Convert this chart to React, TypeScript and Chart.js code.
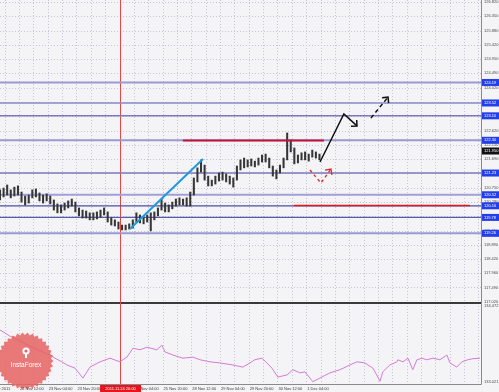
import React, { useEffect, useRef } from "react";
import { Chart, registerables } from "chart.js";
Chart.register(...registerables);

// ---------- data ----------
const X_MIN = 0;
const X_MAX = 268; // hours shown
const BAR_HOURS = [0,2,4,6,8,10,12,14,16,18,20,22,24,26,28,30,32,34,36,38,40,42,44,46,48,50,52,54,56,58,60,62,64,66,68,70,72,74,76,78,80,82,84,86,88,90,92,94,96,98,100,102,104,106,108,110,112,114,116,118,120,122,124,126,128,130,132,134,136,138,140,142,144,146,148,150,152,154,156,158,160,162,164,166,168,170,172,174,176,178];
const BAR_HIGH = [120.68,120.74,120.84,120.68,120.77,120.81,120.61,120.48,120.51,120.68,
120.71,120.58,120.51,120.55,120.48,120.35,120.22,120.19,120.25,120.32,
120.38,120.28,120.09,120.02,119.99,119.93,119.93,119.96,120.02,120.09,
119.96,119.76,119.70,119.63,119.53,119.53,119.57,119.70,119.93,119.86,
119.79,119.86,119.93,119.96,120.09,120.38,120.25,120.19,120.28,120.38,
120.42,120.38,120.42,120.61,121.07,121.40,121.66,121.49,121.13,121.00,
121.13,121.23,121.26,121.20,121.13,121.07,121.46,121.66,121.72,121.66,
121.69,121.62,121.72,121.82,121.85,121.72,121.46,121.33,121.49,121.72,
122.54,122.31,122.05,121.82,121.89,121.92,121.85,121.98,121.92,121.85];
const BAR_LOW = [120.35,120.45,120.51,120.42,120.48,120.51,120.28,120.19,120.25,120.42,
120.45,120.32,120.25,120.32,120.22,120.02,119.93,119.93,120.02,120.09,
120.15,119.96,119.83,119.76,119.76,119.70,119.70,119.73,119.79,119.86,
119.63,119.53,119.50,119.40,119.37,119.37,119.40,119.43,119.63,119.60,
119.57,119.63,119.34,119.70,119.83,120.02,119.96,119.96,120.06,120.15,
120.19,120.19,120.15,120.15,120.51,120.94,121.26,121.00,120.81,120.81,
120.87,120.97,121.00,120.94,120.87,120.77,121.00,121.33,121.40,121.43,
121.46,121.43,121.49,121.59,121.59,121.40,121.13,121.04,121.23,121.40,
121.66,121.92,121.53,121.56,121.66,121.66,121.62,121.75,121.72,121.66];

const PRICE_MIN = 117.016;
const PRICE_MAX = 126.885;
const PRICE_TICKS = [126.82,126.35,125.88,125.42,124.95,124.49,124.02,123.55,123.08,122.62,122.15,121.69,121.22,120.75,120.28,119.82,119.35,118.89,118.42,117.96,117.49,117.02];

const LEVELS = [124.19,123.52,123.10,122.30,121.23,120.52,120.16,119.78,119.26];
const CURRENT_PRICE = 121.95;

const TREND_HOURS = [72.4, 113.1];
const TREND_PRICES = [119.40, 121.69];
const RESIST_HOURS = [101.9, 180.5];
const RESIST_PRICE = 122.29;
const SUPPORT_HOURS = [163.8, 261.8];
const SUPPORT_PRICE = 120.17;
const FORECAST_HOURS = [178.3, 191.6, 198.9];
const FORECAST_PRICES = [121.59, 123.16, 122.77];
const FORECAST2_HOURS = [206.7, 216.2];
const FORECAST2_PRICES = [123.03, 123.71];
const ALT_HOURS = [172.7, 178.8, 184.4];
const ALT_PRICES = [121.33, 120.905, 121.36];

const IND_MIN = 132.977;
const IND_MAX = 134.543;
const IND_TICKS = [134.472, 133.021];
const IND_HOURS = [0,5.6,11.1,16.7,22.3,27.9,30.6,34.5,37.3,41.8,46.2,50.1,55.7,61.3,66.8,70.7,74.1,78.0,81.9,87.4,90.2,91.9,96.4,101.9,107.5,111.4,117.0,122.5,129.8,135.3,139.3,142.0,145.9,148.7,151.5,154.8,159.9,163.2,167.1,169.9,172.7,174.3,178.2,183.8,189.4,195.0,198.8,203.3,205.0,207.8,210.5,211.7,213.3,217.2,221.1,221.7,224.5,227.3,230.0,232.3,235.1,237.8,241.2,245.1,249.0,250.7,254.5,257.3,260.7,263.5,267.4];
const IND_VALUES = [134.01,133.89,133.80,133.70,133.61,133.53,133.47,133.40,133.34,133.28,133.09,133.30,133.40,133.47,133.40,133.49,133.66,133.63,133.68,133.63,133.72,133.59,133.53,133.47,133.49,133.44,133.40,133.38,133.34,133.30,133.38,133.44,133.47,133.38,133.28,133.11,133.15,133.25,133.19,133.21,133.09,133.02,133.09,133.19,133.25,133.34,133.40,133.38,133.34,133.28,133.11,133.03,133.21,133.34,133.40,133.44,133.40,133.47,133.25,133.44,133.47,133.44,133.47,133.44,133.53,133.38,133.30,133.40,133.44,133.46,133.47];

const TIME_LABELS = ["21 Nov 2011","22 Nov 12:00","23 Nov 04:00","23 Nov 20:00","24 Nov 12:00","25 Nov 04:00","25 Nov 20:00","28 Nov 12:00","29 Nov 04:00","29 Nov 20:00","30 Nov 12:00","1 Dec 04:00"];
const TIME_LABEL_HOURS = [-7.4,10.6,26.6,42.6,58.6,74.6,90.6,106.6,122.6,138.6,154.6,170.6];
const MARKER_HOUR = 66.9;
const MARKER_LABEL = "2011.11.24 20:00";

// ---------- styles ----------
const FONT = '"Liberation Sans", Arial, sans-serif';
const BG = "#f4f4f6";
const LEVEL_COLORS = ["#9a9ad2","#8a8ac8","#7a7abd","#9a9ad2","#7a7abd","#a0a0d6","#4c4ca6","#5a5aaa","#9a9ad2"];
const LEVEL_WIDTHS = [2,1.6,1.6,2,1.6,2,1.2,1.2,2];

function arrowHead(ctx: CanvasRenderingContext2D, x0: number, y0: number, x1: number, y1: number, len: number, color: string, width: number) {
  const a = Math.atan2(y1 - y0, x1 - x0);
  ctx.save();
  ctx.setLineDash([]);
  ctx.strokeStyle = color;
  ctx.lineWidth = width;
  ctx.beginPath();
  ctx.moveTo(x1 - len * Math.cos(a - Math.PI / 4), y1 - len * Math.sin(a - Math.PI / 4));
  ctx.lineTo(x1, y1);
  ctx.lineTo(x1 - len * Math.cos(a + Math.PI / 4), y1 - len * Math.sin(a + Math.PI / 4));
  ctx.stroke();
  ctx.restore();
}

const ARROW_SETS: { idx: number; color: string; width: number }[] = [];

const decor = {
  id: "decor",
  beforeDraw(chart: any) {
    const { ctx, width, height } = chart;
    ctx.save();
    ctx.fillStyle = BG;
    ctx.fillRect(0, 0, width, height);
    ctx.restore();
  },
  beforeDatasetsDraw(chart: any) {
    const { ctx, chartArea } = chart;
    const xs = chart.scales.x, ys = chart.scales.y;
    ctx.save();
    ctx.strokeStyle = "#c6c6d2";
    ctx.lineWidth = 1;
    ctx.setLineDash([1, 2]);
    for (const v of PRICE_TICKS) {
      const py = Math.round(ys.getPixelForValue(v)) + 0.5;
      ctx.beginPath();
      ctx.moveTo(chartArea.left, py);
      ctx.lineTo(chartArea.right, py);
      ctx.stroke();
    }
    for (let h = TIME_LABEL_HOURS[1] - 8; h < X_MAX; h += 8) {
      const px = Math.round(xs.getPixelForValue(h)) + 0.5;
      ctx.beginPath();
      ctx.moveTo(px, chartArea.top);
      ctx.lineTo(px, chartArea.bottom);
      ctx.stroke();
    }
    ctx.setLineDash([]);
    ctx.strokeStyle = "#3a3a3a";
    ctx.lineWidth = 2;
    ctx.beginPath();
    ctx.moveTo(0, ys.bottom + 1);
    ctx.lineTo(chartArea.right, ys.bottom + 1);
    ctx.stroke();
    ctx.strokeStyle = "#8a8a8a";
    ctx.lineWidth = 1;
    ctx.beginPath();
    ctx.moveTo(chartArea.right + 0.5, 0);
    ctx.lineTo(chartArea.right + 0.5, chartArea.bottom + 0.5);
    ctx.lineTo(0, chartArea.bottom + 0.5);
    ctx.stroke();
    const mx = Math.round(xs.getPixelForValue(MARKER_HOUR)) + 0.5;
    ctx.strokeStyle = "#e04848";
    ctx.beginPath();
    ctx.moveTo(mx, chartArea.top);
    ctx.lineTo(mx, chartArea.bottom);
    ctx.stroke();
    ctx.restore();
  },
  afterDatasetsDraw(chart: any) {
    const { ctx } = chart;
    for (const a of ARROW_SETS) {
      const pts = chart.getDatasetMeta(a.idx).data;
      const n = pts.length;
      if (n >= 2) arrowHead(ctx, pts[n - 2].x, pts[n - 2].y, pts[n - 1].x, pts[n - 1].y, 6, a.color, a.width);
    }
    const cx = 25, cy = 361, R = 28.5, r = 26, n = 34;
    ctx.save();
    ctx.beginPath();
    for (let i = 0; i < 2 * n; i++) {
      const ang = (i * Math.PI) / n;
      const rr = i % 2 === 0 ? R : r;
      ctx.lineTo(cx + rr * Math.cos(ang), cy + rr * Math.sin(ang));
    }
    ctx.closePath();
    ctx.fillStyle = "rgba(230,98,98,0.85)";
    ctx.fill();
    ctx.fillStyle = "#ffffff";
    ctx.beginPath();
    ctx.arc(cx + 1, 351, 3.6, 0, Math.PI * 2);
    ctx.fill();
    ctx.fillRect(cx, 351, 2, 7);
    ctx.fillStyle = "rgba(230,98,98,1)";
    ctx.beginPath();
    ctx.arc(cx + 1, 351, 1.6, 0, Math.PI * 2);
    ctx.fill();
    ctx.fillStyle = "#ffffff";
    ctx.font = `6.5px ${FONT}`;
    ctx.textAlign = "center";
    ctx.textBaseline = "middle";
    ctx.fillText("InstaForex", cx + 1, 365);
    ctx.restore();
  },
  afterDraw(chart: any) {
    const { ctx, chartArea } = chart;
    const xs = chart.scales.x, ys = chart.scales.y;
    ctx.save();
    ctx.font = `4px ${FONT}`;
    ctx.textBaseline = "middle";
    ctx.textAlign = "left";
    for (const v of LEVELS) {
      const py = ys.getPixelForValue(v);
      ctx.fillStyle = "#2340e8";
      ctx.fillRect(chartArea.right + 1, py - 3.5, 18, 7);
      ctx.fillStyle = "#ffffff";
      ctx.fillText(v.toFixed(2), chartArea.right + 3, py);
    }
    const cp = ys.getPixelForValue(CURRENT_PRICE);
    ctx.fillStyle = "#111111";
    ctx.fillRect(chartArea.right + 1, cp - 3.5, 18, 7);
    ctx.fillStyle = "#ffffff";
    ctx.fillText(CURRENT_PRICE.toFixed(3), chartArea.right + 3, cp);
    const ly = chartArea.bottom + 4.5;
    ctx.fillStyle = "#3a3a3a";
    TIME_LABELS.forEach((t, i) => {
      const px = xs.getPixelForValue(TIME_LABEL_HOURS[i]);
      ctx.fillText(t, px + 1, ly);
    });
    const mx = xs.getPixelForValue(MARKER_HOUR);
    ctx.fillStyle = "#e8141c";
    ctx.fillRect(mx - 20, chartArea.bottom + 1, 41, 8);
    ctx.fillStyle = "#ffffff";
    ctx.textAlign = "center";
    ctx.fillText(MARKER_LABEL, mx + 0.5, ly);
    ctx.restore();
  },
};

function line(xsArr: number[], ysArr: number[], color: string, width: number, order: number, dash: number[] = [], axis = "y") {
  return {
    type: "line" as const,
    data: xsArr.map((x, i) => ({ x, y: ysArr[i] })),
    borderColor: color,
    borderWidth: width,
    borderDash: dash,
    pointRadius: 0,
    tension: 0,
    fill: false,
    yAxisID: axis,
    order,
  };
}

const yTicks = {
  autoSkip: false,
  padding: 3,
  color: "#4a4a4a",
  font: { size: 4, family: FONT },
  callback: (v: any) => Number(v).toFixed(3),
};
const noGrid = { display: false, drawTicks: false, tickLength: 0 };

export default function App() {
  const ref = useRef<HTMLCanvasElement>(null);
  useEffect(() => {
    const canvas = ref.current!;
    const datasets: any[] = [];
    LEVELS.forEach((v, i) => datasets.push(line([X_MIN, X_MAX], [v, v], LEVEL_COLORS[i], LEVEL_WIDTHS[i], 20)));
    datasets.push({
      type: "bar",
      data: BAR_HOURS.map((h, i) => ({ x: h, y: [BAR_LOW[i], BAR_HIGH[i]] })),
      backgroundColor: "#363636",
      borderWidth: 0,
      barThickness: 1.4,
      grouped: false,
      yAxisID: "y",
      order: 10,
    });
    datasets.push(line(TREND_HOURS, TREND_PRICES, "#2299dd", 2, 5));
    datasets.push(line(RESIST_HOURS, [RESIST_PRICE, RESIST_PRICE], "#c41238", 2, 5));
    datasets.push(line(SUPPORT_HOURS, [SUPPORT_PRICE, SUPPORT_PRICE], "#e01818", 1.5, 5));
    datasets.push(line(IND_HOURS, IND_VALUES, "#d77ad7", 1, 5, [], "y2"));
    ARROW_SETS.length = 0;
    datasets.push(line(FORECAST_HOURS, FORECAST_PRICES, "#111111", 1.5, 1));
    ARROW_SETS.push({ idx: datasets.length - 1, color: "#111111", width: 1.5 });
    datasets.push(line(FORECAST2_HOURS, FORECAST2_PRICES, "#111111", 1.5, 1, [4, 3]));
    ARROW_SETS.push({ idx: datasets.length - 1, color: "#111111", width: 1.5 });
    datasets.push(line(ALT_HOURS, ALT_PRICES, "#e02828", 1.3, 1, [3, 3]));
    ARROW_SETS.push({ idx: datasets.length - 1, color: "#e02828", width: 1.3 });

    const chart = new Chart(canvas, {
      type: "bar",
      data: { datasets },
      options: {
        responsive: false,
        animation: false,
        maintainAspectRatio: false,
        layout: { padding: 0 },
        plugins: { legend: { display: false }, tooltip: { enabled: false } },
        scales: {
          x: {
            type: "linear",
            min: X_MIN,
            max: X_MAX,
            offset: false,
            grid: noGrid,
            border: { display: false },
            ticks: { display: false },
            afterFit: (s: any) => { s.height = 8; s.paddingLeft = 0; s.paddingRight = 0; },
          },
          y: {
            type: "linear",
            position: "right",
            stack: "panels",
            stackWeight: 302,
            min: PRICE_MIN,
            max: PRICE_MAX,
            grid: noGrid,
            border: { display: false },
            afterBuildTicks: (s: any) => { s.ticks = PRICE_TICKS.map((v) => ({ value: v })); },
            ticks: yTicks,
            afterFit: (s: any) => { s.width = 18; s.paddingTop = 0; s.paddingBottom = 0; },
          },
          y2: {
            type: "linear",
            position: "right",
            stack: "panels",
            stackWeight: 82,
            min: IND_MIN,
            max: IND_MAX,
            grid: noGrid,
            border: { display: false },
            afterBuildTicks: (s: any) => { s.ticks = IND_TICKS.map((v) => ({ value: v })); },
            ticks: yTicks,
            afterFit: (s: any) => { s.width = 18; s.paddingTop = 0; s.paddingBottom = 0; },
          },
        },
      } as any,
      plugins: [decor],
    });
    return () => chart.destroy();
  }, []);
  return (
    <div style={{ position: "fixed", left: 0, top: 0, width: 499, height: 392 }}>
      <canvas ref={ref} width={499} height={392} style={{ display: "block", width: 499, height: 392 }} />
    </div>
  );
}
